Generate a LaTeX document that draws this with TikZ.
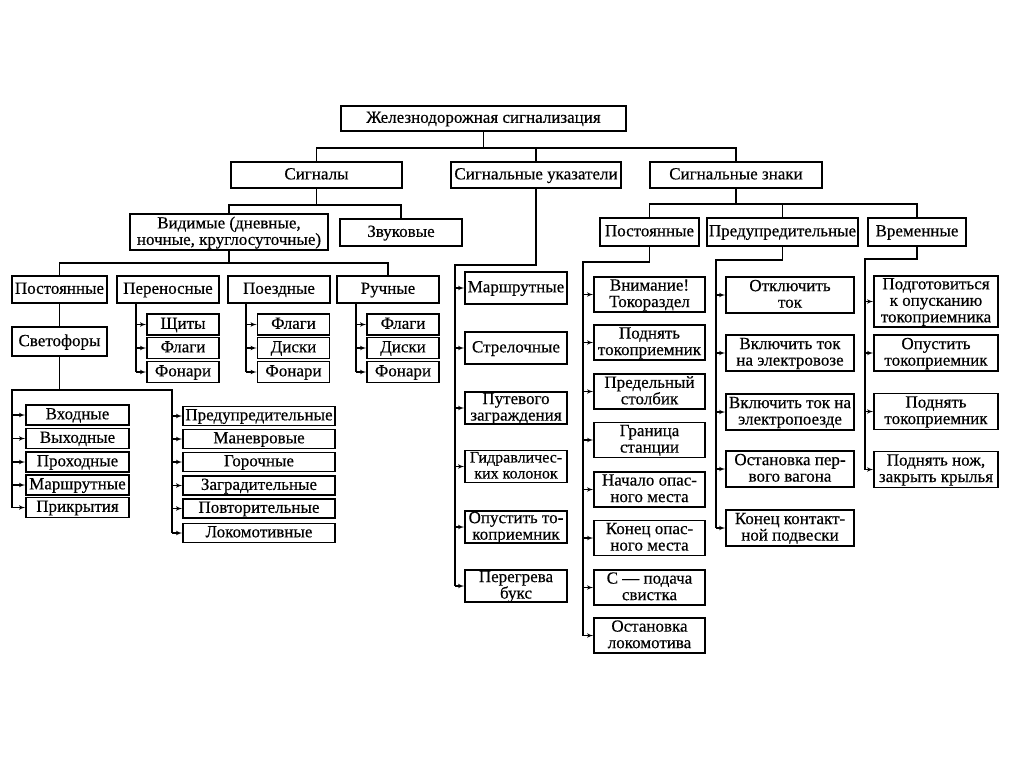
\documentclass[tikz,border=0pt]{standalone}
\usepackage{fontspec}
\setmainfont{Liberation Serif}
\newfontfamily\scanfont[FakeBold=0.4]{Liberation Serif}
\usetikzlibrary{arrows,positioning,calc}

\begin{document}
\begin{tikzpicture}[x=1pt,y=-1pt,>=latex',line width=1.6pt]
\tikzstyle{box}=[draw=black, fill=white, align=center, inner sep=0pt, text depth=2.5pt, font=\scanfont\fontsize{17}{16.5}\selectfont]
\tikzstyle{head}=[box, minimum height=26]
\tikzstyle{kind}=[box, minimum width=102, minimum height=27]
\tikzstyle{item}=[box, minimum width=72, minimum height=21]
\tikzstyle{lampl}=[box, minimum width=103, minimum height=20]
\tikzstyle{lampr}=[box, minimum width=152, minimum height=19]
\tikzstyle{ind}=[box, minimum width=102, minimum height=32]
\tikzstyle{sign}=[box, minimum width=111, minimum height=35]
\tikzstyle{warn}=[box, minimum width=128, minimum height=36]
\tikzstyle{temp}=[box, minimum width=124, minimum height=36]
\tikzstyle{branch}=[->, line width=1.1pt]
\useasboundingbox[fill=white] (0,0) rectangle (1024,767);
% top levels
\node[box, minimum width=285, minimum height=25] (rail) at (483.5,118.5) {Железнодорожная сигнализация};
\node[head, minimum width=171] (sig) at (316.5,175) {Сигналы};
\node[head, minimum width=170] (ukaz) at (536,175) {Сигнальные указатели};
\node[head, minimum width=172] (znak) at (736,175) {Сигнальные знаки};
\coordinate (b1) at (483.5,148);
\draw (rail) -- (b1);
\draw (sig.north) |- (b1) -| (znak.north);
\draw (ukaz.north) -- (ukaz.north |- b1);
% signals
\node[box, minimum width=198, minimum height=36] (vid) at (229,232) {Видимые (дневные,\\ночные, круглосуточные)};
\node[box, minimum width=122, minimum height=27] (zvuk) at (401,232.5) {Звуковые};
\coordinate (b2) at (316.5,205);
\draw (sig) -- (b2);
\draw (vid.north) |- (b2) -| (zvuk.north);
\node[kind, minimum width=95] (post) at (59.5,289.5) {Постоянные};
\node[kind] (pere) at (168,289.5) {Переносные};
\node[kind] (poezd) at (279,289.5) {Поездные};
\node[kind] (ruch) at (388,289.5) {Ручные};
\coordinate (b3) at (229,263);
\draw (vid) -- (b3);
\draw (post.north) |- (b3) -| (ruch.north);
% portable, train, hand
\node[item] (pere1) at (183,324.5) {Щиты};
\node[item] (pere2) at (183,348) {Флаги};
\node[item] (pere3) at (183,372) {Фонари};
\node[item] (poezd1) at (293.5,324.5) {Флаги};
\node[item] (poezd2) at (293.5,348) {Диски};
\node[item] (poezd3) at (293.5,372) {Фонари};
\node[item] (ruch1) at (403,324.5) {Флаги};
\node[item] (ruch2) at (403,348) {Диски};
\node[item] (ruch3) at (403,372) {Фонари};
\coordinate (pk) at ($(pere.south west)+(20,0)$);
\coordinate (ok) at ($(poezd.south west)+(19,0)$);
\coordinate (rk) at ($(ruch.south west)+(20,0)$);
\draw (pk) -- (pk |- pere3);
\draw (ok) -- (ok |- poezd3);
\draw (rk) -- (rk |- ruch3);
\draw[branch] (pk |- pere1) -- (pere1);
\draw[branch] (pk |- pere2) -- (pere2);
\draw[branch] (pk |- pere3) -- (pere3);
\draw[branch] (ok |- poezd1) -- (poezd1);
\draw[branch] (ok |- poezd2) -- (poezd2);
\draw[branch] (ok |- poezd3) -- (poezd3);
\draw[branch] (rk |- ruch1) -- (ruch1);
\draw[branch] (rk |- ruch2) -- (ruch2);
\draw[branch] (rk |- ruch3) -- (ruch3);
% traffic lights
\node[box, minimum width=95, minimum height=29] (svet) at (59.5,341.5) {Светофоры};
\draw (post) -- (svet);
\node[lampl] (l1) at (77.5,415) {Входные};
\node[lampl] (l2) at (77.5,438.5) {Выходные};
\node[lampl] (l3) at (77.5,462) {Проходные};
\node[lampl] (l4) at (77.5,485) {Маршрутные};
\node[lampl] (l5) at (77.5,507.5) {Прикрытия};
\node[lampr] (r1) at (259,416) {Предупредительные};
\node[lampr] (r2) at (259,439) {Маневровые};
\node[lampr] (r3) at (259,462) {Горочные};
\node[lampr] (r4) at (259,485.5) {Заградительные};
\node[lampr] (r5) at (259,508.5) {Повторительные};
\node[lampr] (r6) at (259,533) {Локомотивные};
\coordinate (b4) at (59.5,390);
\coordinate (lk) at (12,390);
\coordinate (sk) at (172,390);
\draw (svet) -- (b4);
\draw (lk |- l5) -- (lk) -- (sk) -- (sk |- r6);
\draw[branch] (lk |- l1) -- (l1);
\draw[branch] (lk |- l2) -- (l2);
\draw[branch] (lk |- l3) -- (l3);
\draw[branch] (lk |- l4) -- (l4);
\draw[branch] (lk |- l5) -- (l5);
\draw[branch] (sk |- r1) -- (r1);
\draw[branch] (sk |- r2) -- (r2);
\draw[branch] (sk |- r3) -- (r3);
\draw[branch] (sk |- r4) -- (r4);
\draw[branch] (sk |- r5) -- (r5);
\draw[branch] (sk |- r6) -- (r6);
% indicators
\node[ind] (u1) at (516,288) {Маршрутные};
\node[ind] (u2) at (516,348) {Стрелочные};
\node[ind] (u3) at (516,408) {Путевого\\заграждения};
\node[ind, font=\scanfont\fontsize{16}{16}\selectfont] (u4) at (516,466.5) {Гидравличес-\\ких колонок};
\node[ind] (u5) at (516,527) {Опустить то-\\коприемник};
\node[ind] (u6) at (516,586) {Перегрева\\букс};
\coordinate (uk) at (455,265);
\draw (ukaz.south) |- (uk) -- (uk |- u6);
\draw[branch] (uk |- u1) -- (u1);
\draw[branch] (uk |- u2) -- (u2);
\draw[branch] (uk |- u3) -- (u3);
\draw[branch] (uk |- u4) -- (u4);
\draw[branch] (uk |- u5) -- (u5);
\draw[branch] (uk |- u6) -- (u6);
% signs
\node[head, minimum width=99, minimum height=28] (zpost) at (649.5,232) {Постоянные};
\node[head, minimum width=151, minimum height=28] (zpred) at (782.5,232) {Предупредительные};
\node[head, minimum width=98, minimum height=28] (zvrem) at (917,232) {Временные};
\coordinate (b5) at (736,204);
\draw (znak) -- (b5);
\draw (zpost.north) |- (b5) -| (zvrem.north);
\draw (zpred.north) -- (zpred.north |- b5);
\node[sign] (z1) at (649.5,294.5) {Внимание!\\Токораздел};
\node[sign] (z2) at (649.5,342.5) {Поднять\\токоприемник};
\node[sign] (z3) at (649.5,391.5) {Предельный\\столбик};
\node[sign] (z4) at (649.5,440) {Граница\\станции};
\node[sign] (z5) at (649.5,489.5) {Начало опас-\\ного места};
\node[sign] (z6) at (649.5,538) {Конец опас-\\ного места};
\node[sign] (z7) at (649.5,587.5) {С — подача\\свистка};
\node[sign] (z8) at (649.5,635.5) {Остановка\\локомотива};
\coordinate (zk) at (583,262);
\draw (zpost.south) |- (zk) -- (zk |- z8);
\draw[branch] (zk |- z1) -- (z1);
\draw[branch] (zk |- z2) -- (z2);
\draw[branch] (zk |- z3) -- (z3);
\draw[branch] (zk |- z4) -- (z4);
\draw[branch] (zk |- z5) -- (z5);
\draw[branch] (zk |- z6) -- (z6);
\draw[branch] (zk |- z7) -- (z7);
\draw[branch] (zk |- z8) -- (z8);
\node[warn] (w1) at (790,295) {Отключить\\ток};
\node[warn] (w2) at (790,353) {Включить ток\\на электровозе};
\node[warn] (w3) at (790,412) {Включить ток на\\электропоезде};
\node[warn] (w4) at (790,469) {Остановка пер-\\вого вагона};
\node[warn] (w5) at (790,528) {Конец контакт-\\ной подвески};
\coordinate (wk) at (716,260);
\draw (zpred.south) |- (wk) -- (wk |- w5);
\draw[branch] (wk |- w1) -- (w1);
\draw[branch] (wk |- w2) -- (w2);
\draw[branch] (wk |- w3) -- (w3);
\draw[branch] (wk |- w4) -- (w4);
\draw[branch] (wk |- w5) -- (w5);
\node[temp, minimum height=51] (t1) at (936,301.5) {Подготовиться\\к опусканию\\токоприемника};
\node[temp] (t2) at (936,353) {Опустить\\токоприемник};
\node[temp] (t3) at (936,411.5) {Поднять\\токоприемник};
\node[temp] (t4) at (936,469.5) {Поднять нож,\\закрыть крылья};
\coordinate (tk) at (865,259);
\draw (zvrem.south) |- (tk) -- (tk |- t4);
\draw[branch] (tk |- t1) -- (t1);
\draw[branch] (tk |- t2) -- (t2);
\draw[branch] (tk |- t3) -- (t3);
\draw[branch] (tk |- t4) -- (t4);
\end{tikzpicture}
\end{document}
